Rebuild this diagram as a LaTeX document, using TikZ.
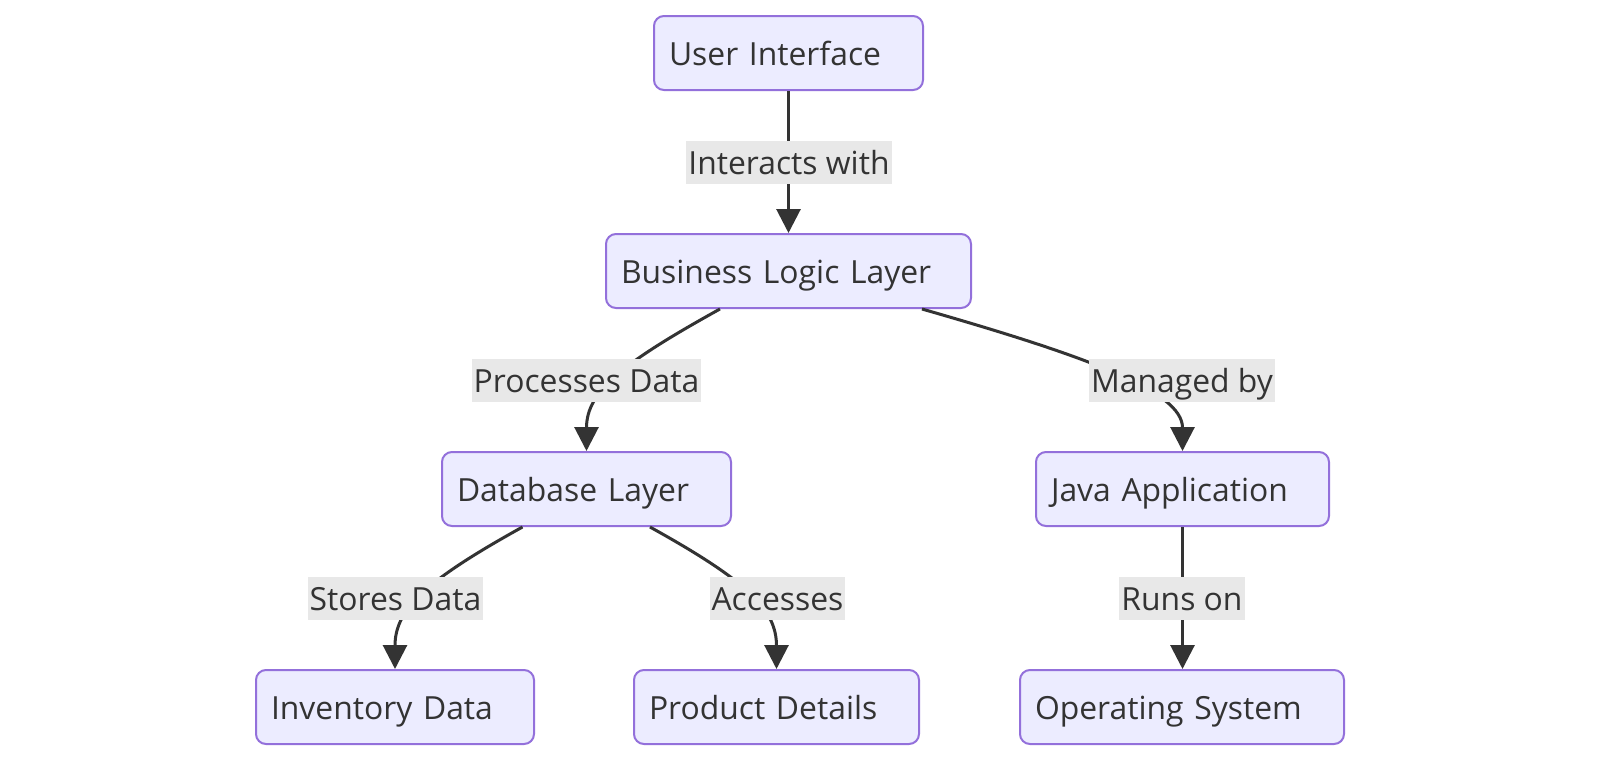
\documentclass[tikz,border=0pt]{standalone}
\usepackage{fontspec}
\setmainfont{Open Sans}
\usetikzlibrary{arrows.meta}
\definecolor{boxfill}{HTML}{ECECFF}
\definecolor{boxline}{HTML}{9370DB}
\definecolor{edgecol}{HTML}{333333}
\definecolor{lblbg}{HTML}{E8E8E8}
\definecolor{txtcol}{HTML}{333333}
\newcommand{\dfont}{\fontsize{23.9}{29}\selectfont}
\begin{document}
\begin{tikzpicture}[x=0.75pt,y=-0.75pt,
  box/.style={draw=boxline, fill=boxfill, line width=1.5pt, rounded corners=7.5pt,
    minimum height=55.5pt, inner xsep=11.25pt, inner ysep=0pt, text width=#1, align=left,
    text height=18.4pt, text depth=0pt, font=\dfont, text=txtcol},
  lbl/.style={fill=lblbg, inner xsep=1.5pt, inner ysep=0pt, minimum height=32.25pt,
    text height=18.4pt, text depth=0pt, font=\dfont, text=txtcol},
  edge/.style={draw=edgecol, line width=2.25pt, -{Triangle[width=18pt,length=18pt]}}]
\useasboundingbox[fill=white] (0,0) rectangle (1600,760);
\node[box=179.25pt] (ui) at (788.5,53) {User Interface};
\node[box=251.25pt] (bll) at (788.5,271) {Business Logic Layer};
\node[box=194.25pt] (db) at (586.5,489) {Database Layer};
\node[box=197.25pt] (java) at (1182.5,489) {Java Application};
\node[box=186pt] (inv) at (395,707) {Inventory Data};
\node[box=191.25pt] (prod) at (776.5,707) {Product Details};
\node[box=220.5pt] (os) at (1182,707) {Operating System};
\draw[edge] (ui.south) -- (bll.north);
\draw[edge] ([xshift=-51.4pt]bll.south) .. controls +(151:110) and +(-90:60) .. (db.north);
\draw[edge] ([xshift=100.1pt]bll.south) .. controls +(16:170) and +(-90:60) .. (java.north);
\draw[edge] ([xshift=-48pt]db.south) .. controls +(151:110) and +(-90:60) .. (inv.north);
\draw[edge] ([xshift=47.6pt]db.south) .. controls +(29:110) and +(-90:60) .. (prod.north);
\draw[edge] (java.south) -- (java.south |- os.north);
\node[lbl] (l1) at (789,162) {Interacts with};
\node[lbl] (l2) at (586.5,380.5) {Processes Data};
\node[lbl] (l3) at (1182,380.5) {Managed by};
\node[lbl] (l4) at (395.5,598.5) {Stores Data};
\node[lbl] (l5) at (777.5,598.5) {Accesses};
\node[lbl] (l6) at (1182,598.5) {Runs on};
\end{tikzpicture}
\end{document}
